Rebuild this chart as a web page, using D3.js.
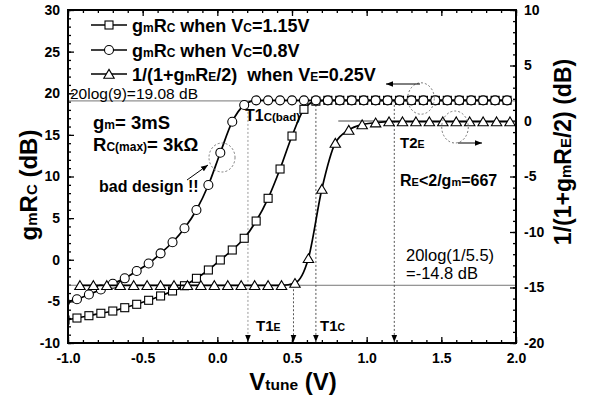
<!DOCTYPE html>
<html><head><meta charset="utf-8">
<script src="https://cdn.jsdelivr.net/npm/d3@7"></script>
<style>body{margin:0;background:#fff}text{white-space:pre}</style>
</head><body>
<svg id="c" width="596" height="399"></svg>
<script>
// ---- data ----
const vGrid = [-1.02,-0.94,-0.86,-0.78,-0.70,-0.62,-0.54,-0.46,-0.38,-0.30,-0.22,-0.14,-0.06,0.02,0.10,0.18,0.26,0.34,0.42,0.50,0.58,0.66,0.74,0.82,0.90,0.98,1.06,1.14,1.22,1.30,1.38,1.46,1.54,1.62,1.70,1.78,1.86,1.94];
const gainVc115 = [-7.24,-7.0,-6.72,-6.43,-6.16,-5.76,-5.35,-4.87,-4.35,-3.75,-3.12,-2.23,-1.23,-0.03,1.17,2.58,4.65,7.38,10.9,14.86,18.07,19.05,19.15,19.15,19.15,19.15,19.15,19.15,19.15,19.15,19.15,19.15,19.15,19.15,19.15,19.15,19.15,19.15];
const gainVc08 = [-5.07,-4.75,-4.17,-3.57,-2.89,-2.23,-1.35,-0.45,0.77,2.1,3.78,5.98,8.98,12.86,16.58,18.59,19.15,19.15,19.15,19.15,19.15,19.15,19.15,19.15,19.15,19.15,19.15,19.15,19.15,19.15,19.15,19.15,19.15,19.15,19.15,19.15,19.15,19.15];
const vTri = [-0.92,-0.83,-0.74,-0.65,-0.56,-0.47,-0.38,-0.29,-0.20,-0.11,-0.02,0.07,0.16,0.25,0.34,0.43,0.52,0.61,0.70,0.79,0.88,0.97,1.06,1.15,1.24,1.33,1.42,1.51,1.60,1.69,1.78,1.87,1.96];
const degenVe025 = [-14.8,-14.8,-14.8,-14.8,-14.8,-14.8,-14.8,-14.8,-14.8,-14.8,-14.8,-14.8,-14.8,-14.8,-14.8,-14.8,-14.6,-12.37,-6.13,-1.98,-0.81,-0.32,-0.15,-0.05,-0.05,-0.05,-0.05,-0.05,-0.05,-0.05,-0.05,-0.05,-0.05];
const xTicks = [-1.0,-0.5,0.0,0.5,1.0,1.5,2.0];
const yLeftTicks = [-10,-5,0,5,10,15,20,25,30];
const yRightTicks = [-20,-15,-10,-5,0,5,10];
const refLeft = 19.08;      // 20log(9)
const refRight = -14.8;     // 20log(1/5.5)
const markerV = [0.205, 0.51, 0.66, 1.185]; // T1C(bad), T1E, T1C, T2E

const FONT = "'Liberation Sans', Arial, Helvetica, sans-serif";
const svg = d3.select("#c");
const L=68, R=516, T=10, B=343;
const x = d3.scaleLinear([-1,2],[L,R]);
const yL = d3.scaleLinear([-10,30],[B,T]);
const yR = d3.scaleLinear([-20,10],[B,T]);

svg.append("defs").append("clipPath").attr("id","clip").append("rect").attr("x",L).attr("y",T).attr("width",R-L).attr("height",B-T);
const marker = svg.select("defs").append("marker").attr("id","ah").attr("viewBox","0 0 10 10").attr("refX",10).attr("refY",5)
  .attr("markerWidth",7).attr("markerHeight",7).attr("orient","auto-start-reverse").attr("markerUnits","userSpaceOnUse");
marker.append("path").attr("d","M0,1 L10,5 L0,9 Z").attr("fill","#000");

function rich(parent, px, py, parts, weight, anchor){
  const t = parent.append("text").attr("x",px).attr("y",py).attr("font-family",FONT)
    .attr("font-weight",weight||"bold").attr("text-anchor",anchor||"start").attr("fill","#000");
  parts.forEach(([s,sz])=>t.append("tspan").attr("font-size",sz).text(s));
  return t;
}

// ---- axes ----
function styleAxis(g){ g.select(".domain").remove(); g.selectAll("line").attr("stroke","#000").attr("stroke-width",1.3);
  g.selectAll("text").attr("font-family",FONT).attr("font-weight","bold").attr("font-size",14).attr("fill","#000"); }
const xMinor = d3.range(-10,21).map(d=>d/10);
svg.append("g").attr("transform",`translate(0,${B})`).call(d3.axisBottom(x).tickValues(xMinor).tickSize(-3).tickFormat("")).call(styleAxis);
svg.append("g").attr("transform",`translate(0,${B})`).call(d3.axisBottom(x).tickValues(xTicks).tickSize(-6).tickPadding(10).tickFormat(d=>d.toFixed(1))).call(styleAxis);
svg.append("g").attr("transform",`translate(0,${T})`).call(d3.axisTop(x).tickValues(xMinor).tickSize(-3).tickFormat("")).call(styleAxis);
svg.append("g").attr("transform",`translate(0,${T})`).call(d3.axisTop(x).tickValues(xTicks).tickSize(-6).tickFormat("")).call(styleAxis);
svg.append("g").attr("transform",`translate(${L},0)`).call(d3.axisLeft(yL).tickValues(d3.range(-10,31)).tickSize(-3).tickFormat("")).call(styleAxis);
svg.append("g").attr("transform",`translate(${L},0)`).call(d3.axisLeft(yL).tickValues(yLeftTicks).tickSize(-6).tickPadding(8).tickFormat(d=>String(d))).call(styleAxis);
svg.append("g").attr("transform",`translate(${R},0)`).call(d3.axisRight(yR).tickValues(d3.range(-20,11)).tickSize(-3).tickFormat("")).call(styleAxis);
svg.append("g").attr("transform",`translate(${R},0)`).call(d3.axisRight(yR).tickValues(yRightTicks).tickSize(-6).tickPadding(8).tickFormat(d=>String(d))).call(styleAxis);

// ---- reference lines ----
svg.append("line").attr("x1",L).attr("x2",R).attr("y1",yL(refLeft)).attr("y2",yL(refLeft)).attr("stroke","#777").attr("stroke-width",1);
svg.append("line").attr("x1",L).attr("x2",R).attr("y1",yR(refRight)).attr("y2",yR(refRight)).attr("stroke","#777").attr("stroke-width",1);
svg.append("line").attr("x1",x(0.81)).attr("x2",R).attr("y1",yR(0)).attr("y2",yR(0)).attr("stroke","#444").attr("stroke-width",1);

// dotted vertical markers
const dotTop = [yL(refLeft)+3, yR(refRight), yL(refLeft), yL(refLeft)];
markerV.forEach((v,i)=>{
  svg.append("line").attr("x1",x(v)).attr("x2",x(v)).attr("y1",dotTop[i]).attr("y2",B-1)
    .attr("stroke",i===0?"#999":"#555").attr("stroke-width",1).attr("stroke-dasharray","2,2").attr("marker-end","url(#ah)");
});

// ---- series ----
const plot = svg.append("g").attr("clip-path","url(#clip)");
const lineL = d3.line().x(d=>x(d[0])).y(d=>yL(d[1])).curve(d3.curveMonotoneX);
const lineR = d3.line().x(d=>x(d[0])).y(d=>yR(d[1])).curve(d3.curveMonotoneX);
const sq = vGrid.map((v,i)=>[v,gainVc115[i]]);
const ci = vGrid.map((v,i)=>[v,gainVc08[i]]);
const tr = vTri.map((v,i)=>[v,degenVe025[i]]);
const triPath = "M0,-4.6 L5.2,4.2 L-5.2,4.2 Z";
function drawSq(g,px,py){ g.append("rect").attr("x",px-4).attr("y",py-4).attr("width",8).attr("height",8).attr("fill","#fff").attr("stroke","#000").attr("stroke-width",1.1); }
function drawCi(g,px,py){ g.append("circle").attr("cx",px).attr("cy",py).attr("r",4.5).attr("fill","#fff").attr("stroke","#000").attr("stroke-width",1.1); }
function drawTr(g,px,py){ g.append("path").attr("d",triPath).attr("transform",`translate(${px},${py})`).attr("fill","#fff").attr("stroke","#000").attr("stroke-width",1.1); }

plot.append("path").attr("d",lineL(sq)).attr("fill","none").attr("stroke","#000").attr("stroke-width",1.7);
sq.forEach(d=>drawSq(plot,x(d[0]),yL(d[1])));
plot.append("path").attr("d",lineL(ci)).attr("fill","none").attr("stroke","#000").attr("stroke-width",1.7);
ci.forEach(d=>drawCi(plot,x(d[0]),yL(d[1])));
plot.append("path").attr("d",lineR(tr)).attr("fill","none").attr("stroke","#000").attr("stroke-width",1.7);
tr.forEach(d=>drawTr(plot,x(d[0]),yR(d[1])));

// frame
svg.append("rect").attr("x",L).attr("y",T).attr("width",R-L).attr("height",B-T).attr("fill","none").attr("stroke","#000").attr("stroke-width",2);

// ---- legend ----
const leg = [
  {f:drawSq, y:25, parts:[["g",18],["m",12],["R",18],["C",12],[" when V",18],["C",12],["=1.15V",18]]},
  {f:drawCi, y:50, parts:[["g",18],["m",12],["R",18],["C",12],[" when V",18],["C",12],["=0.8V",18]]},
  {f:drawTr, y:74, parts:[["1/(1+g",18],["m",12],["R",18],["E",12],["/2)  when V",18],["E",12],["=0.25V",18]]}
];
leg.forEach(r=>{
  svg.append("line").attr("x1",91).attr("x2",127).attr("y1",r.y).attr("y2",r.y).attr("stroke","#000").attr("stroke-width",1.5);
  r.f(svg,109,r.y);
  rich(svg,132,r.y+6.5,r.parts);
});

// ---- annotations ----
rich(svg,70,98.5,[["20log(9)=19.08 dB",15.5]],"normal");
rich(svg,93,129,[["g",18.5],["m",12],["= 3mS",18.5]]);
rich(svg,93,151,[["R",18.5],["C(max)",12],["= 3k\u03A9",18.5]]);
rich(svg,99,192,[["bad design !!",16]]);
rich(svg,245,121,[["T1",16],["C(bad)",11.5]]);
rich(svg,256,331,[["T1",15],["E",10.5]]);
rich(svg,320,331,[["T1",15],["C",10.5]]);
rich(svg,400,148,[["T2",15],["E",10.5]]);
rich(svg,400,186,[["R",16],["E",11],["<2/g",16],["m",11],["=667",16]]);
rich(svg,406,261,[["20log(1/5.5)",16.5]],"normal");
rich(svg,406,279,[["=-14.8 dB",16.5]],"normal");

const dash = {stroke:"#777","stroke-width":1,"stroke-dasharray":"2,2",fill:"none"};
function ell(cx,cy,rx,ry){ const e=svg.append("ellipse").attr("cx",cx).attr("cy",cy).attr("rx",rx).attr("ry",ry); Object.entries(dash).forEach(([k,v])=>e.attr(k,v)); }
ell(222,157.5,13,14.5);
ell(421,98.5,13.3,15.7);
ell(455,127,13.3,16);
function arrow(x1,y1,x2,y2){ svg.append("line").attr("x1",x1).attr("y1",y1).attr("x2",x2).attr("y2",y2).attr("stroke","#000").attr("stroke-width",1).attr("marker-end","url(#ah)"); }
arrow(187,180,208,165);
arrow(420,84,386,84);
arrow(458,143,482,143);

// ---- axis titles ----
rich(svg,293,390,[["V",24],["tune",15.5],[" (V)",24]],"bold","middle");
rich(svg,0,0,[["g",24],["m",15],["R",24],["C",15],[" (dB)",24]],"bold","middle").attr("transform","translate(37,185) rotate(-90)");
rich(svg,0,0,[["1/(1+g",23],["m",15],["R",23],["E",15],["/2) (dB)",23]],"bold","middle").attr("transform","translate(571,152) rotate(-90)");
</script>
</body></html>
